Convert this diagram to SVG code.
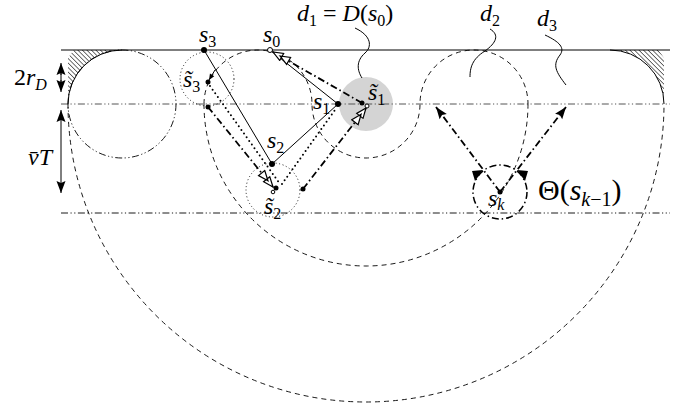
<svg xmlns="http://www.w3.org/2000/svg" width="688" height="408" viewBox="0 0 688 408">
<style>
.solid{stroke:#000;stroke-width:1;fill:none}
.dash{stroke:#000;stroke-width:0.9;fill:none;stroke-dasharray:5 4}
.dd{stroke:#000;stroke-width:0.9;fill:none;stroke-dasharray:7 2.5 1.2 2.5 1.2 2.5}
.ddg{stroke:#555;stroke-width:1;fill:none;stroke-dasharray:7 2.5 1.2 2.5 1.2 2.5}
.dot{stroke:#000;stroke-width:0.9;fill:none;stroke-dasharray:1 2.5}
.bdot{stroke:#000;stroke-width:2;fill:none;stroke-dasharray:0 4.5;stroke-linecap:round}
.tdd{stroke:#000;stroke-width:1.8;fill:none;stroke-dasharray:7 3 1.5 3}
.pt{fill:#000}
.op{fill:#fff;stroke:#000;stroke-width:1}
text{font-family:"Liberation Serif","DejaVu Serif",serif;font-size:24px;font-style:italic;fill:#000}
.up{font-style:normal}
.sub{font-size:16px}
</style>
<defs>
<pattern id="hatch" width="3.2" height="10" patternUnits="userSpaceOnUse" patternTransform="rotate(-45)">
<line x1="0" y1="0" x2="0" y2="10" stroke="#000" stroke-width="1.1"/>
</pattern>
<marker id="oa" viewBox="-19 -5 20 10" markerWidth="20" markerHeight="10" refX="0" refY="0" markerUnits="userSpaceOnUse" orient="auto">
<path d="M0,0 L-10,-4 L-10,4 Z M-8,0 L-18,-4 L-18,4 Z" fill="#fff" stroke="#000" stroke-width="1.2" stroke-linejoin="miter"/>
</marker>
<marker id="fa" viewBox="-13 -6 14 12" markerWidth="14" markerHeight="12" refX="0" refY="0" markerUnits="userSpaceOnUse" orient="auto">
<path d="M0,0 L-12,-4.5 L-10,0 L-12,4.5 Z" fill="#000"/>
</marker>
<marker id="sa" viewBox="-7 -3 8 6" markerWidth="8" markerHeight="6" refX="0" refY="0" markerUnits="userSpaceOnUse" orient="auto">
<path d="M0,0 L-6,-2.5 L-6,2.5 Z" fill="#000"/>
</marker>
</defs>

<g id="regions">
<circle cx="366" cy="104" r="27" fill="#d4d4d4"/>
<path d="M68,104 A54,54 0 0 1 122,50 L74,50 A70,70 0 0 0 68,58 Z" fill="url(#hatch)"/>
<path d="M664,104 A54,54 0 0 0 610,50 L658,50 A70,70 0 0 1 664,58 Z" fill="url(#hatch)"/>
<line class="solid" x1="61" y1="50" x2="670" y2="50"/>
<line class="ddg" x1="61" y1="104" x2="670" y2="104"/>
<line class="dd" x1="61" y1="213" x2="670" y2="213"/>
<circle class="dd" cx="122" cy="104" r="54"/>
<path class="solid" d="M68,104 A54,54 0 0 1 122,50"/>
<path class="solid" d="M664,104 A54,54 0 0 0 610,50"/>
<path class="dash" d="M204,104 A54,54 0 0 1 312,104 A54,54 0 0 0 420,104 A54,54 0 0 1 528,104"/>
<path class="dash" d="M204,104 A162,162 0 0 0 528,104"/>
<path class="dash" d="M68,104 A298,298 0 0 0 664,104"/>
<circle class="dot" cx="207" cy="79" r="27"/>
<circle class="dot" cx="273" cy="190" r="27"/>
<circle class="tdd" cx="500" cy="192" r="27" style="stroke-width:1.5"/>
</g>

<g id="connectors">
<line class="solid" x1="204" y1="50" x2="272" y2="164"/>
<line class="solid" x1="272" y1="164" x2="338" y2="104"/>
<line class="solid" x1="270" y1="50" x2="338" y2="104"/>
<line class="bdot" x1="210" y1="86" x2="280" y2="184"/>
<line class="bdot" x1="282" y1="184" x2="335" y2="110"/>
<line class="tdd" x1="362" y1="103" x2="273" y2="52" marker-end="url(#oa)"/>
<line class="tdd" x1="303" y1="189" x2="366" y2="108" marker-end="url(#oa)"/>
<line class="tdd" x1="208" y1="107" x2="273" y2="187" marker-end="url(#oa)"/>
<line class="tdd" x1="500" y1="192" x2="436" y2="107" marker-end="url(#fa)"/>
<line class="tdd" x1="500" y1="192" x2="566" y2="107" marker-end="url(#fa)"/>
<line class="solid" x1="215" y1="70" x2="209" y2="80" marker-end="url(#sa)"/>
<polygon points="483,170 472,171 475,181" fill="#000"/>
<polygon points="517,170 528,171 525,181" fill="#000"/>
<path class="solid" d="M355,28 C372,36 372,47 365,53 C356,61 357,70 362,78"/>
<path class="solid" d="M490,29 C500,35 496,43 485,51 C472,59 470,68 470,77"/>
<path class="solid" d="M545,35 C560,42 565,48 560,55 C552,65 556,72 566,85"/>
<line class="solid" x1="61" y1="70" x2="61" y2="85"/>
<line class="solid" x1="61" y1="75" x2="61" y2="63" marker-end="url(#fa)"/>
<line class="solid" x1="61" y1="80" x2="61" y2="92" marker-end="url(#fa)"/>
<line class="solid" x1="61" y1="150" x2="61" y2="110" marker-end="url(#fa)"/>
<line class="solid" x1="61" y1="150" x2="61" y2="193" marker-end="url(#fa)"/>
</g>

<g id="s3"><circle class="pt" cx="204" cy="50" r="3"/><text x="199" y="42">s<tspan class="sub up" dy="5">3</tspan></text></g>
<g id="s0"><circle class="op" cx="270" cy="50" r="2.5"/><text x="263" y="42">s<tspan class="sub up" dy="5">0</tspan></text></g>
<g id="s3t"><circle class="pt" cx="208" cy="82" r="2.5"/><text x="183" y="87">s̃<tspan class="sub up" dy="5">3</tspan></text></g>
<g id="p3"><circle class="pt" cx="208" cy="107" r="2.5"/></g>
<g id="s1"><circle class="pt" cx="338" cy="104" r="3"/><text x="313" y="109">s<tspan class="sub up" dy="5">1</tspan></text></g>
<g id="s1t"><circle class="pt" cx="362" cy="103" r="2.5"/><circle class="op" cx="367" cy="106" r="2"/><text x="368" y="100">s̃<tspan class="sub up" dy="5">1</tspan></text></g>
<g id="s2"><circle class="pt" cx="272" cy="164" r="3"/><text x="267" y="148">s<tspan class="sub up" dy="5">2</tspan></text></g>
<g id="s2t"><circle class="pt" cx="276" cy="188" r="2.5"/><circle class="op" cx="273" cy="192" r="1.8"/><text x="264" y="214">s̃<tspan class="sub up" dy="5">2</tspan></text></g>
<g id="p2"><circle class="pt" cx="303" cy="189" r="2.5"/></g>
<g id="sk"><circle class="pt" cx="500" cy="192" r="2.5"/><text x="488" y="206">s<tspan class="sub" dy="4">k</tspan></text></g>
<g id="theta"><text x="538" y="200" style="font-size:30px"><tspan class="up">Θ(</tspan>s<tspan dy="6" style="font-size:20px">k</tspan><tspan class="up" style="font-size:20px">−1</tspan><tspan class="up" dy="-6">)</tspan></text></g>
<g id="d1"><text x="297" y="21">d<tspan class="sub up" dy="5">1</tspan><tspan class="up" dy="-5"> = </tspan>D<tspan class="up">(</tspan>s<tspan class="sub up" dy="5">0</tspan><tspan class="up" dy="-5">)</tspan></text></g>
<g id="d2"><text x="480" y="21">d<tspan class="sub up" dy="5">2</tspan></text></g>
<g id="d3"><text x="537" y="26">d<tspan class="sub up" dy="5">3</tspan></text></g>
<g id="rD"><text x="14" y="85"><tspan class="up">2</tspan>r<tspan class="sub" dy="5">D</tspan></text></g>
<g id="vT"><text x="28" y="165">v̄T</text></g>
</svg>
